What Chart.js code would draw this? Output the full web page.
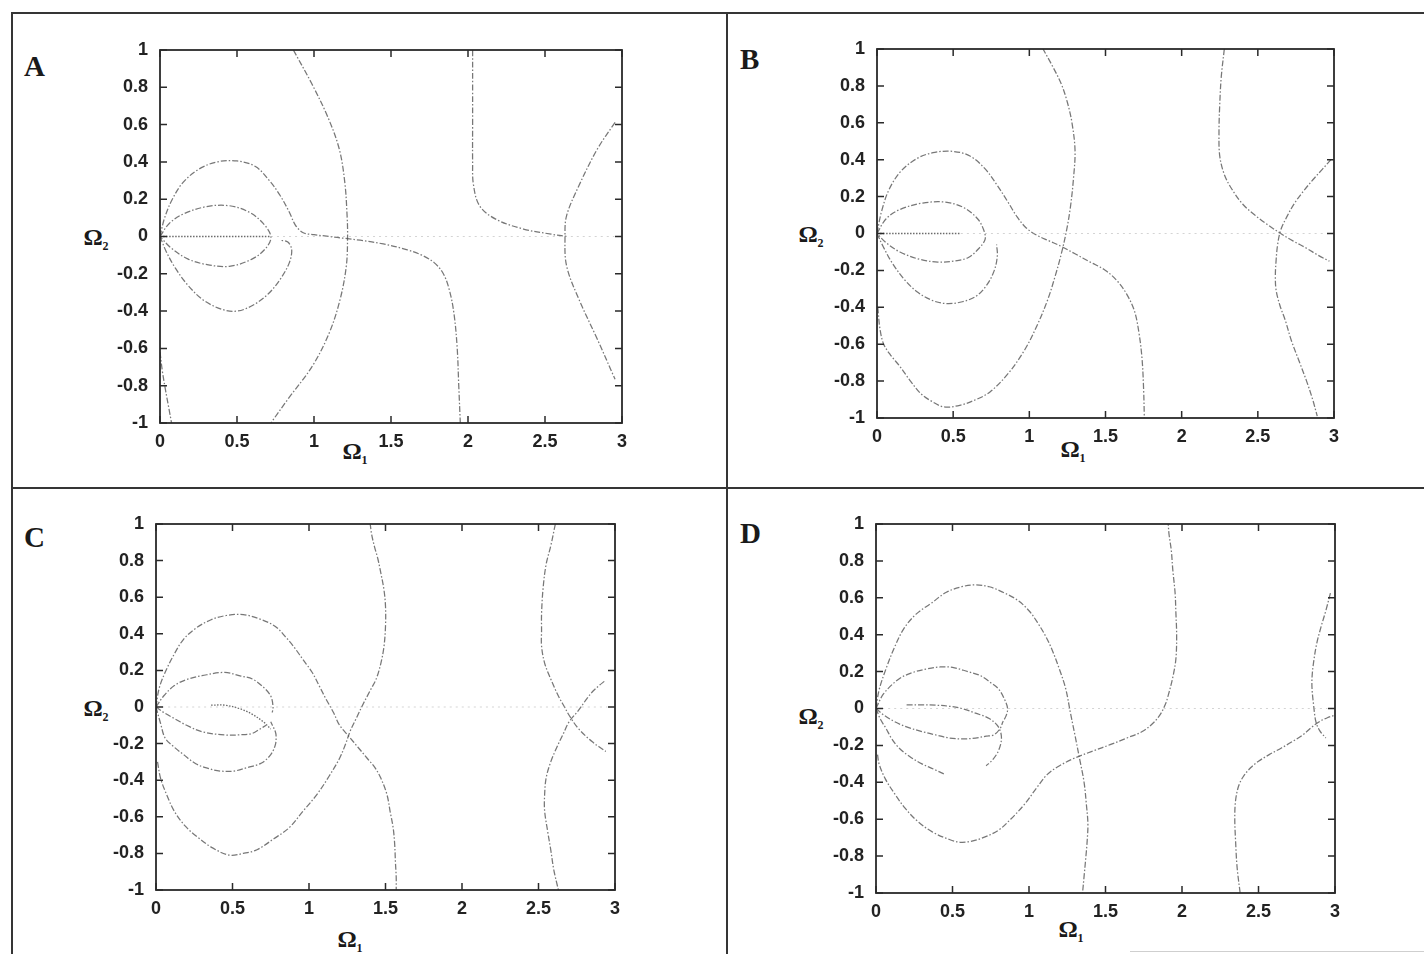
<!DOCTYPE html>
<html>
<head>
<meta charset="utf-8">
<script src="https://cdn.jsdelivr.net/npm/chart.js@4.4.1/dist/chart.umd.min.js"></script>
<style>
  html, body { margin: 0; padding: 0; background: #fff; }
  body { width: 1424px; height: 954px; position: relative; overflow: hidden; }
  canvas { position: absolute; }
  .rule { position: absolute; background: #353535; }
  .letter { position: absolute; font-family: "Liberation Serif", serif; font-weight: bold; font-size: 29px; line-height: 1; color: #1a1a1a; }
  .omega { position: absolute; font-family: "Liberation Serif", serif; font-weight: bold; font-size: 24px; line-height: 1; color: #1a1a1a; transform: translate(-50%, -50%); white-space: nowrap; }
  .omega sub { font-size: 12px; vertical-align: -5px; }
</style>
</head>
<body>
<div class="rule" style="left:11px; top:12px; width:1413px; height:2px;"></div>
<div class="rule" style="left:11px; top:12px; width:2px; height:942px;"></div>
<div class="rule" style="left:12px; top:487px; width:1412px; height:2px;"></div>
<div class="rule" style="left:726px; top:12px; width:2px; height:942px;"></div>
<div class="rule" style="left:1130px; top:951px; width:294px; height:1px; background:#cfcfcf;"></div>

<div class="letter" style="left:24px; top:52px;">A</div>
<div class="letter" style="left:740px; top:45px;">B</div>
<div class="letter" style="left:24px; top:523px;">C</div>
<div class="letter" style="left:740px; top:519px;">D</div>

<div class="omega" style="left:96px; top:238px;">Ω<sub>2</sub></div>
<div class="omega" style="left:355px; top:452px;">Ω<sub>1</sub></div>
<div class="omega" style="left:811px; top:235px;">Ω<sub>2</sub></div>
<div class="omega" style="left:1073px; top:450px;">Ω<sub>1</sub></div>
<div class="omega" style="left:96px; top:709px;">Ω<sub>2</sub></div>
<div class="omega" style="left:350px; top:940px;">Ω<sub>1</sub></div>
<div class="omega" style="left:811px; top:717px;">Ω<sub>2</sub></div>
<div class="omega" style="left:1071px; top:930px;">Ω<sub>1</sub></div>

<canvas id="cA"></canvas>
<canvas id="cB"></canvas>
<canvas id="cC"></canvas>
<canvas id="cD"></canvas>

<script>
// ---------- axis ticks ----------
const xTicks = [0, 0.5, 1, 1.5, 2, 2.5, 3];
const xTickLabels = ['0', '0.5', '1', '1.5', '2', '2.5', '3'];
const yTicks = [-1, -0.8, -0.6, -0.4, -0.2, 0, 0.2, 0.4, 0.6, 0.8, 1];
const yTickLabels = ['-1', '-0.8', '-0.6', '-0.4', '-0.2', '0', '0.2', '0.4', '0.6', '0.8', '1'];

// ---------- Panel A curves [Ω1, Ω2] ----------
const A_loopOuterUp = [[0,0],[0.03,0.1],[0.08,0.2],[0.15,0.29],[0.25,0.36],[0.37,0.4],[0.5,0.405],[0.62,0.375],[0.71,0.3],[0.78,0.22],[0.84,0.13],[0.88,0.06],[0.93,0.02],[1.0,0.01],[1.1,0.0],[1.2,-0.01],[1.3,-0.02],[1.45,-0.04],[1.6,-0.07],[1.7,-0.1],[1.78,-0.14],[1.84,-0.2],[1.88,-0.29],[1.91,-0.42],[1.93,-0.6],[1.94,-0.8],[1.95,-1.0]];
const A_loopInner = [[0,0],[0.06,0.07],[0.15,0.12],[0.3,0.16],[0.45,0.165],[0.58,0.13],[0.67,0.07],[0.72,0.0],[0.69,-0.06],[0.6,-0.12],[0.45,-0.16],[0.3,-0.15],[0.18,-0.12],[0.07,-0.06],[0,0]];
const A_loopOuterDown = [[0,0],[0.04,-0.08],[0.1,-0.17],[0.18,-0.26],[0.28,-0.34],[0.4,-0.39],[0.5,-0.4],[0.6,-0.37],[0.7,-0.31],[0.78,-0.23],[0.84,-0.14],[0.855,-0.07],[0.83,-0.03],[0.78,-0.02]];
const A_arc = [[0.866,1.0],[0.985,0.82],[1.09,0.64],[1.164,0.469],[1.2,0.29],[1.215,0.11],[1.218,0],[1.21,-0.157],[1.17,-0.336],[1.1,-0.515],[0.99,-0.694],[0.83,-0.873],[0.72,-1.0]];
const A_leftTail = [[0.0,-0.62],[0.015,-0.72],[0.035,-0.82],[0.055,-0.91],[0.075,-1.0]];
const A_right1 = [[2.03,1.0],[2.03,0.8],[2.03,0.6],[2.03,0.4],[2.035,0.28],[2.075,0.165],[2.18,0.093],[2.36,0.04],[2.54,0.0125],[2.65,0.0]];
const A_right2 = [[2.955,0.612],[2.84,0.469],[2.72,0.272],[2.64,0.111],[2.63,0],[2.64,-0.157],[2.72,-0.336],[2.84,-0.551],[2.955,-0.766]];
const A_zeroDense = [[0,0],[0.72,0]];
const A_zeroFaint = [[0.72,0],[2.95,0]];

// ---------- Panel B curves ----------
const B_loopOuterUp = [[0,0],[0.03,0.12],[0.08,0.24],[0.16,0.34],[0.27,0.41],[0.38,0.44],[0.5,0.445],[0.61,0.42],[0.71,0.35],[0.79,0.26],[0.86,0.17],[0.92,0.09],[0.98,0.03],[1.05,-0.01],[1.13,-0.04],[1.21,-0.07],[1.3,-0.11],[1.4,-0.155],[1.5,-0.2],[1.58,-0.26],[1.64,-0.33],[1.69,-0.42],[1.72,-0.54],[1.74,-0.68],[1.75,-0.84],[1.755,-1.0]];
const B_loopInner = [[0,0],[0.06,0.08],[0.15,0.13],[0.3,0.165],[0.45,0.17],[0.57,0.14],[0.66,0.08],[0.7,0.02],[0.71,-0.03],[0.67,-0.08],[0.6,-0.13],[0.5,-0.15],[0.4,-0.155],[0.28,-0.14],[0.15,-0.1],[0.06,-0.05],[0,0]];
const B_loopOuterDown = [[0,0],[0.04,-0.07],[0.1,-0.16],[0.18,-0.25],[0.27,-0.32],[0.37,-0.365],[0.46,-0.38],[0.56,-0.37],[0.65,-0.34],[0.72,-0.28],[0.77,-0.2],[0.79,-0.12],[0.785,-0.06]];
const B_arc = [[0.005,-0.4],[0.02,-0.52],[0.044,-0.6],[0.09,-0.66],[0.15,-0.72],[0.22,-0.8],[0.29,-0.87],[0.36,-0.91],[0.44,-0.94],[0.55,-0.93],[0.65,-0.9],[0.74,-0.86],[0.86,-0.76],[0.97,-0.63],[1.05,-0.5],[1.12,-0.36],[1.17,-0.23],[1.21,-0.11],[1.245,0.02],[1.27,0.145],[1.29,0.3],[1.3,0.45],[1.28,0.6],[1.25,0.71],[1.21,0.81],[1.15,0.91],[1.09,1.0]];
const B_right1 = [[2.28,1.0],[2.26,0.85],[2.25,0.7],[2.245,0.55],[2.25,0.42],[2.28,0.32],[2.33,0.24],[2.4,0.16],[2.48,0.1],[2.56,0.05],[2.65,0.0],[2.73,-0.04],[2.82,-0.08],[2.9,-0.12],[2.97,-0.15]];
const B_right2 = [[2.98,0.4],[2.92,0.345],[2.86,0.29],[2.8,0.23],[2.74,0.163],[2.69,0.09],[2.65,0.018],[2.63,-0.06],[2.62,-0.145],[2.615,-0.23],[2.62,-0.307],[2.645,-0.39],[2.68,-0.47],[2.72,-0.58],[2.77,-0.69],[2.82,-0.8],[2.86,-0.9],[2.89,-0.99]];
const B_zeroDense = [[0,0],[0.55,0]];
const B_zeroFaint = [[0.55,0],[2.95,0]];

// ---------- Panel C curves ----------
const C_loopOuterUp = [[0,0],[0.02,0.1],[0.06,0.19],[0.12,0.29],[0.18,0.37],[0.26,0.43],[0.36,0.477],[0.46,0.5],[0.57,0.505],[0.68,0.48],[0.78,0.44],[0.85,0.38],[0.9,0.33],[0.96,0.26],[1.02,0.19],[1.07,0.11],[1.11,0.045],[1.16,-0.03],[1.2,-0.1],[1.26,-0.16],[1.32,-0.22],[1.38,-0.28],[1.43,-0.33],[1.47,-0.39],[1.51,-0.48],[1.53,-0.57],[1.55,-0.66],[1.56,-0.75],[1.565,-0.85],[1.57,-0.93],[1.57,-1.0]];
const C_arc = [[0.01,-0.3],[0.03,-0.39],[0.07,-0.48],[0.12,-0.57],[0.19,-0.65],[0.27,-0.71],[0.37,-0.77],[0.48,-0.81],[0.57,-0.8],[0.66,-0.78],[0.77,-0.72],[0.87,-0.66],[0.96,-0.57],[1.05,-0.48],[1.13,-0.38],[1.2,-0.28],[1.24,-0.2],[1.27,-0.13],[1.31,-0.06],[1.35,0.01],[1.4,0.09],[1.44,0.155],[1.47,0.24],[1.49,0.33],[1.5,0.44],[1.5,0.55],[1.49,0.64],[1.47,0.73],[1.45,0.81],[1.43,0.87],[1.41,0.94],[1.4,1.0]];
const C_loopInner = [[0,0],[0.05,0.06],[0.12,0.117],[0.2,0.15],[0.3,0.171],[0.45,0.189],[0.55,0.17],[0.63,0.153],[0.7,0.11],[0.75,0.06],[0.765,0.0],[0.76,-0.03]];
const C_loopMid = [[0,0],[0.06,-0.035],[0.12,-0.063],[0.2,-0.1],[0.3,-0.135],[0.45,-0.153],[0.55,-0.152],[0.63,-0.144],[0.68,-0.12],[0.72,-0.1]];
const C_innerCore = [[0.36,0.01],[0.45,0.01],[0.55,-0.01],[0.63,-0.04],[0.7,-0.08],[0.75,-0.12]];
const C_loopOuterDown = [[0,0],[0.03,-0.09],[0.06,-0.17],[0.12,-0.22],[0.18,-0.26],[0.26,-0.31],[0.33,-0.333],[0.42,-0.35],[0.51,-0.35],[0.6,-0.33],[0.69,-0.306],[0.75,-0.26],[0.78,-0.207],[0.785,-0.16],[0.78,-0.135],[0.75,-0.081]];
const C_right1 = [[2.61,1.0],[2.58,0.88],[2.55,0.78],[2.53,0.65],[2.52,0.51],[2.52,0.42],[2.52,0.333],[2.54,0.24],[2.58,0.153],[2.63,0.06],[2.67,0.0],[2.7,-0.045],[2.76,-0.117],[2.85,-0.189],[2.94,-0.243]];
const C_right2 = [[2.93,0.14],[2.9,0.12],[2.86,0.09],[2.82,0.05],[2.76,-0.02],[2.7,-0.081],[2.66,-0.15],[2.62,-0.22],[2.58,-0.3],[2.55,-0.387],[2.54,-0.48],[2.54,-0.567],[2.56,-0.68],[2.58,-0.78],[2.6,-0.89],[2.63,-1.0]];
const C_zeroFaint = [[0,0],[2.95,0]];

// ---------- Panel D curves ----------
const D_loopOuterUp = [[0,0],[0.02,0.1],[0.065,0.214],[0.12,0.33],[0.18,0.43],[0.26,0.51],[0.36,0.57],[0.46,0.63],[0.56,0.66],[0.65,0.67],[0.74,0.66],[0.83,0.63],[0.92,0.59],[1.0,0.53],[1.06,0.46],[1.11,0.39],[1.15,0.32],[1.2,0.21],[1.24,0.107],[1.27,-0.02],[1.3,-0.143],[1.33,-0.27],[1.36,-0.4],[1.375,-0.52],[1.385,-0.625],[1.38,-0.72],[1.37,-0.82],[1.36,-0.91],[1.35,-1.0]];
const D_arc = [[0.01,-0.25],[0.02,-0.3],[0.06,-0.38],[0.12,-0.46],[0.19,-0.54],[0.27,-0.61],[0.37,-0.67],[0.48,-0.71],[0.55,-0.725],[0.62,-0.72],[0.7,-0.7],[0.8,-0.66],[0.88,-0.6],[0.97,-0.52],[1.05,-0.43],[1.12,-0.357],[1.2,-0.31],[1.3,-0.268],[1.42,-0.23],[1.53,-0.196],[1.64,-0.16],[1.74,-0.125],[1.81,-0.08],[1.855,-0.036],[1.89,0.02],[1.91,0.071],[1.94,0.17],[1.96,0.268],[1.965,0.4],[1.96,0.52],[1.955,0.625],[1.94,0.75],[1.93,0.857],[1.915,0.946],[1.91,1.0]];
const D_loopInner = [[0,0],[0.05,0.08],[0.15,0.16],[0.24,0.195],[0.33,0.214],[0.42,0.225],[0.5,0.223],[0.6,0.2],[0.68,0.179],[0.75,0.14],[0.8,0.107],[0.84,0.05],[0.86,0.0],[0.85,-0.04],[0.83,-0.071]];
const D_loopMid = [[0.2,0.02],[0.3,0.02],[0.39,0.018],[0.48,0.012],[0.56,0.0],[0.65,-0.025],[0.74,-0.054],[0.8,-0.1],[0.82,-0.16],[0.8,-0.23],[0.76,-0.28],[0.72,-0.31]];
const D_loopInnerDown = [[0,0],[0.05,-0.035],[0.12,-0.071],[0.2,-0.1],[0.3,-0.125],[0.4,-0.145],[0.48,-0.16],[0.57,-0.165],[0.65,-0.16],[0.72,-0.15],[0.77,-0.143],[0.81,-0.11],[0.83,-0.07]];
const D_loopOuterDown = [[0,0],[0.03,-0.06],[0.065,-0.107],[0.1,-0.16],[0.15,-0.214],[0.22,-0.26],[0.3,-0.3],[0.38,-0.33],[0.45,-0.357]];
const D_right1 = [[2.38,-1.0],[2.36,-0.86],[2.35,-0.714],[2.345,-0.6],[2.35,-0.5],[2.37,-0.42],[2.4,-0.37],[2.45,-0.32],[2.5,-0.286],[2.57,-0.25],[2.65,-0.214],[2.72,-0.18],[2.79,-0.143],[2.85,-0.1],[2.9,-0.07],[2.95,-0.05],[3.0,-0.036]];
const D_right2 = [[2.97,0.625],[2.94,0.53],[2.91,0.446],[2.88,0.35],[2.86,0.25],[2.85,0.17],[2.85,0.107],[2.86,0.02],[2.875,-0.071],[2.9,-0.12],[2.94,-0.16]];
const D_zeroFaint = [[0,0],[2.95,0]];

// ---------- styles ----------
const CURVE = { color: 'rgba(85,85,85,0.8)', width: 1.25, dash: [6, 2, 1.5, 2] };
const DENSE = { color: 'rgba(70,70,70,0.8)', width: 1.3, dash: [1.5, 1.5] };
const FAINT = { color: 'rgba(160,160,160,0.45)', width: 1, dash: [2, 4] };

function ds(pairs, st) {
  return {
    data: pairs.map(p => ({ x: p[0], y: p[1] })),
    showLine: true,
    borderColor: st.color,
    borderWidth: st.width,
    borderDash: st.dash,
    pointRadius: 0,
    tension: 0.35,
    fill: false
  };
}

const framePlugin = {
  id: 'frame',
  afterDraw(chart) {
    const { ctx, chartArea: a, scales } = chart;
    ctx.save();
    ctx.strokeStyle = '#2a2a2a';
    ctx.lineWidth = 1.8;
    ctx.strokeRect(a.left, a.top, a.right - a.left, a.bottom - a.top);
    ctx.lineWidth = 1.5;
    ctx.beginPath();
    const L = 7;
    xTicks.forEach(v => {
      const px = scales.x.getPixelForValue(v);
      ctx.moveTo(px, a.bottom); ctx.lineTo(px, a.bottom - L);
      ctx.moveTo(px, a.top); ctx.lineTo(px, a.top + L);
    });
    yTicks.forEach(v => {
      const py = scales.y.getPixelForValue(v);
      ctx.moveTo(a.left, py); ctx.lineTo(a.left + L, py);
      ctx.moveTo(a.right, py); ctx.lineTo(a.right - L, py);
    });
    ctx.stroke();
    ctx.restore();
  }
};

const PADL = 120, PADT = 30, PADR = 38, PADB = 47;
const tickFont = { family: '"Liberation Sans", Arial, sans-serif', weight: 'bold', size: 18 };

function panel(id, area, datasets) {
  const cv = document.getElementById(id);
  const w = (area.r - area.l) + PADL + PADR;
  const h = (area.b - area.t) + PADT + PADB;
  cv.width = w; cv.height = h;
  cv.style.left = (area.l - PADL) + 'px';
  cv.style.top = (area.t - PADT) + 'px';
  cv.style.width = w + 'px';
  cv.style.height = h + 'px';
  new Chart(cv, {
    type: 'scatter',
    data: { datasets },
    plugins: [framePlugin],
    options: {
      responsive: false,
      animation: false,
      devicePixelRatio: 1,
      layout: { padding: { left: 0, top: PADT, right: PADR, bottom: 0 } },
      plugins: { legend: { display: false }, tooltip: { enabled: false } },
      scales: {
        x: {
          type: 'linear', min: 0, max: 3,
          grid: { display: false, drawTicks: false },
          border: { display: false },
          afterBuildTicks: s => { s.ticks = xTicks.map(v => ({ value: v })); },
          afterFit: s => { s.height = PADB; },
          ticks: { callback: (v, i) => xTickLabels[i], color: '#222', font: tickFont, padding: 8, maxRotation: 0, autoSkip: false }
        },
        y: {
          type: 'linear', min: -1, max: 1,
          grid: { display: false, drawTicks: false },
          border: { display: false },
          afterBuildTicks: s => { s.ticks = yTicks.map(v => ({ value: v })); },
          afterFit: s => { s.width = PADL; },
          ticks: { callback: (v, i) => yTickLabels[i], color: '#222', font: tickFont, padding: 12, autoSkip: false }
        }
      }
    }
  });
}

panel('cA', { l: 160, t: 50, r: 622, b: 423 }, [
  ds(A_zeroFaint, FAINT), ds(A_zeroDense, DENSE),
  ds(A_loopOuterUp, CURVE), ds(A_loopInner, CURVE), ds(A_loopOuterDown, CURVE),
  ds(A_arc, CURVE), ds(A_leftTail, CURVE), ds(A_right1, CURVE), ds(A_right2, CURVE)
]);
panel('cB', { l: 877, t: 49, r: 1334, b: 418 }, [
  ds(B_zeroFaint, FAINT), ds(B_zeroDense, DENSE),
  ds(B_loopOuterUp, CURVE), ds(B_loopInner, CURVE), ds(B_loopOuterDown, CURVE),
  ds(B_arc, CURVE), ds(B_right1, CURVE), ds(B_right2, CURVE)
]);
panel('cC', { l: 156, t: 524, r: 615, b: 890 }, [
  ds(C_zeroFaint, FAINT),
  ds(C_loopOuterUp, CURVE), ds(C_arc, CURVE), ds(C_loopInner, CURVE), ds(C_loopMid, CURVE),
  ds(C_innerCore, DENSE), ds(C_loopOuterDown, CURVE), ds(C_right1, CURVE), ds(C_right2, CURVE)
]);
panel('cD', { l: 876, t: 524, r: 1335, b: 893 }, [
  ds(D_zeroFaint, FAINT),
  ds(D_loopOuterUp, CURVE), ds(D_arc, CURVE), ds(D_loopInner, CURVE), ds(D_loopMid, CURVE),
  ds(D_loopInnerDown, CURVE), ds(D_loopOuterDown, CURVE), ds(D_right1, CURVE), ds(D_right2, CURVE)
]);
</script>
</body>
</html>
